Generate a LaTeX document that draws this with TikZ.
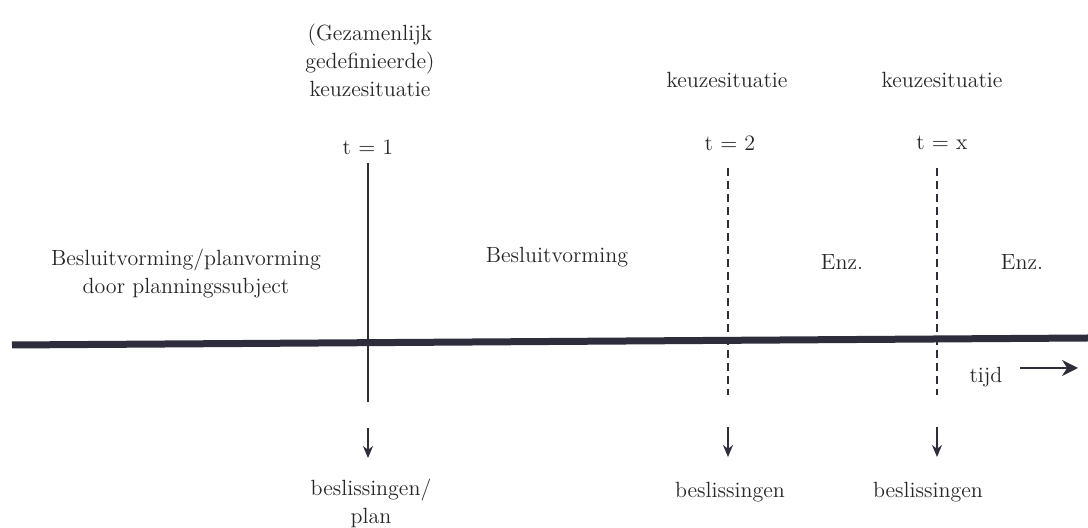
\documentclass[tikz,border=0pt]{standalone}
\usetikzlibrary{positioning, arrows.meta, calc}

\definecolor{axisink}{RGB}{45,45,60}

\begin{document}
\begin{tikzpicture}[
		x=0.5pt, y=-0.5pt,
		>={Stealth[length=6pt, width=5pt]},
		label/.style={font=\fontsize{11}{14}\selectfont, align=center, text=black!85, inner sep=1pt},
		timeline/.style={draw=axisink, line width=3.5pt},
		moment/.style={draw=axisink, line width=1pt},
		nextmoment/.style={draw=axisink, line width=1pt, dash pattern=on 4pt off 2.5pt},
		outcome/.style={->, draw=axisink, line width=0.9pt}
		]
		\useasboundingbox (0,0) rectangle (1088,528);
		
		% --- The time axis ---
		\coordinate (start) at (12,345);
		\coordinate (end) at (1088,338);
		\draw[timeline] (start) -- (end);
		
		% --- Choice situations above the axis ---
		\node[label] (choice1) at (370,60) {(Gezamenlijk\\gedefinieerde)\\keuzesituatie};
		\node[label] (choice2) at (727,80) {keuzesituatie};
		\node[label] (choice3) at (942,80) {keuzesituatie};
		
		\node[label] (t1) at (368,147) {t $=$ 1};
		\node[label] (t2) at (730,143) {t $=$ 2};
		\node[label] (t3) at (942,143) {t $=$ x};
		
		% --- Markers crossing the axis ---
		\coordinate (m1top) at (368,163);
		\coordinate (m1bot) at (368,402);
		\coordinate (m2top) at (728,168);
		\coordinate (m2bot) at (728,395);
		\coordinate (m3top) at (937,168);
		\coordinate (m3bot) at (937,395);
		\draw[moment] (m1top) -- (m1bot);
		\draw[nextmoment] (m2top) -- (m2bot);
		\draw[nextmoment] (m3top) -- (m3bot);
		
		% --- Phases between the moments ---
		\node[label] (phase1) at (186,274) {Besluitvorming/planvorming\\door planningssubject};
		\node[label] (phase2) at (557,257) {Besluitvorming};
		\node[label] (phase3) at (842,262) {Enz.};
		\node[label] (phase4) at (1022,262) {Enz.};
		
		% --- Direction of time ---
		\node[label] (time) at (986,377) {tijd};
		\coordinate (tstart) at (1020,368);
		\coordinate (tend) at (1078,368);
		\draw[outcome, line width=1pt, -{Stealth[length=8pt, width=8pt]}] (tstart) -- (tend);
		
		% --- Decisions below the axis ---
		\node[label] (dec1) at (371,503) {beslissingen/\\plan};
		\node[label] (dec2) at (730,492) {beslissingen};
		\node[label] (dec3) at (928,492) {beslissingen};
		
		\coordinate (a1) at (368,428);
		\coordinate (a2) at (728,427);
		\coordinate (a3) at (937,427);
		\draw[outcome] (a1) -- ++(0,30);
		\draw[outcome] (a2) -- ++(0,30);
		\draw[outcome] (a3) -- ++(0,30);
		
	\end{tikzpicture}
\end{document}
